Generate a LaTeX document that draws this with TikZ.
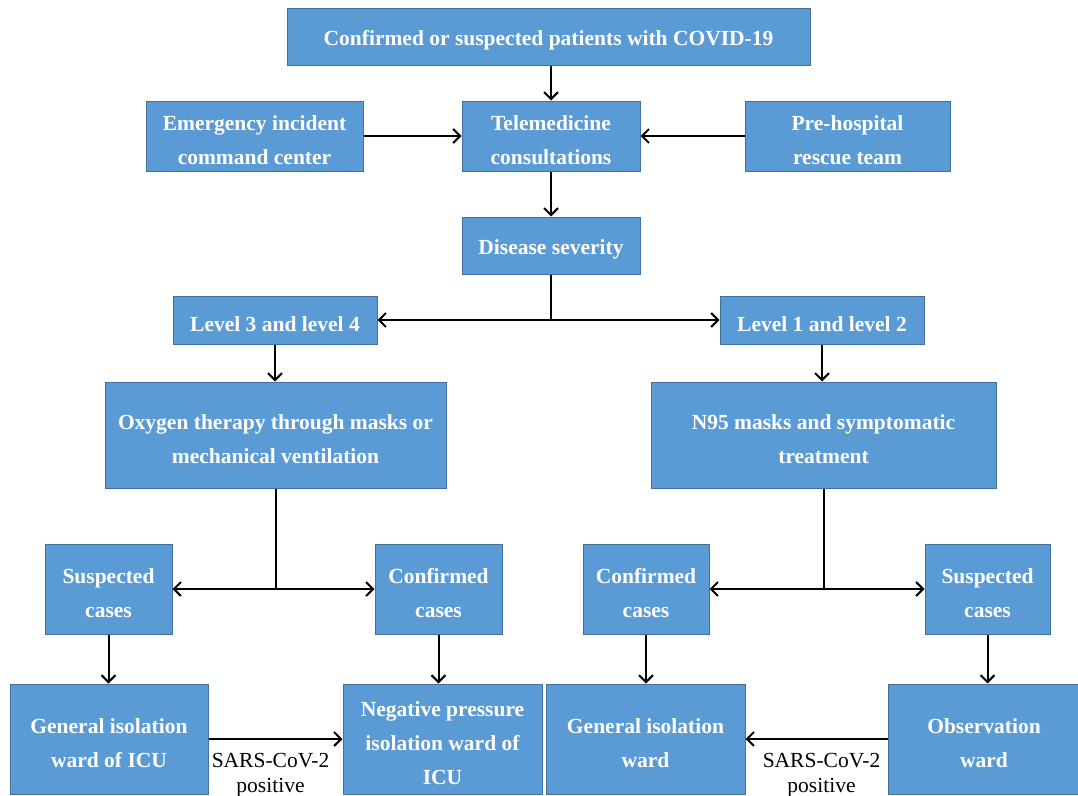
\documentclass[tikz,border=0pt]{standalone}
\usepackage{fontspec}
\setmainfont{Liberation Serif}
\usetikzlibrary{arrows.meta}
\definecolor{boxfill}{HTML}{5B9BD5}
\definecolor{boxline}{HTML}{41719C}
\tikzset{
  box/.style={draw=boxline, fill=boxfill, line width=1pt, inner sep=0pt},
  txt/.style={text=white, font=\bfseries\fontsize{21.5}{34}\selectfont, align=center, inner sep=0pt},
  conn/.style={draw=black, line width=2pt, -{Straight Barb[length=7pt,width=14pt,line width=2pt]}},
  line/.style={draw=black, line width=2pt},
  lbl/.style={font=\fontsize{21.5}{25}\selectfont, align=center, inner sep=0pt}
}
\newcommand\bx[5]{%
  \node[box, minimum width=#3, minimum height=#4] (#1) at (#2) {};
  \node[txt] (#1t) at ([yshift=-4pt]#1.center) {#5};}
\begin{document}
\begin{tikzpicture}[x=1pt,y=-1pt]
\useasboundingbox (0,0) rectangle (1078,795);
\bx{top}{548.5,36.5}{523}{57}{Confirmed or suspected patients with COVID-19}
\bx{emerg}{254.5,136}{217}{70}{Emergency incident\\command center}
\bx{tele}{551,136}{178}{70}{Telemedicine\\consultations}
\bx{pre}{847.5,136}{205}{70}{Pre-hospital\\rescue team}
\bx{sev}{551,245.5}{178}{57}{Disease severity}
\bx{l34}{275,320}{204}{48}{Level 3 and level 4}
\bx{l12}{822,320}{204}{48}{Level 1 and level 2}
\bx{oxy}{275.5,435}{341}{106}{Oxygen therapy through masks or\\mechanical ventilation}
\bx{n95}{823.5,435}{345}{106}{N95 masks and symptomatic\\treatment}
\bx{susL}{108.5,589}{127}{90}{Suspected\\cases}
\bx{conL}{438.5,589}{127}{90}{Confirmed\\cases}
\bx{conR}{646,589}{126}{90}{Confirmed\\cases}
\bx{susR}{987.5,589}{125}{90}{Suspected\\cases}
\bx{gicu}{109,739}{198}{110}{General isolation\\ward of ICU}
\bx{neg}{442.5,739}{199}{110}{Negative pressure\\isolation ward of\\ICU}
\bx{gen}{645.5,739}{199}{110}{General isolation\\ward}
\bx{obs}{984,739}{192}{110}{Observation\\ward}
% arrows
\draw[conn] (tele.north |- top.south) -- (tele);
\draw[conn] (emerg) -- (tele);
\draw[conn] (pre) -- (tele);
\draw[conn] (tele) -- (sev);
\coordinate (j1) at (sev.south |- l34.east);
\draw[line] (sev.south) -- (j1);
\draw[conn] (j1) -- (l34.east);
\draw[conn] (j1) -- (l12.west);
\draw[conn] (l34) -- (l34 |- oxy.north);
\draw[conn] (l12) -- (l12 |- n95.north);
\coordinate (j2) at (oxy.south |- susL.east);
\draw[line] (oxy.south) -- (j2);
\draw[conn] (j2) -- (susL.east);
\draw[conn] (j2) -- (conL.west);
\coordinate (j3) at (n95.south |- conR.east);
\draw[line] (n95.south) -- (j3);
\draw[conn] (j3) -- (conR.east);
\draw[conn] (j3) -- (susR.west);
\draw[conn] (susL) -- (susL |- gicu.north);
\draw[conn] (conL) -- (conL |- neg.north);
\draw[conn] (conR) -- (conR |- gen.north);
\draw[conn] (susR) -- (susR |- obs.north);
\draw[conn] (gicu.east) -- (neg.west) node[lbl, midway, below=13pt, xshift=-5pt] (lab1) {SARS-CoV-2\\positive};
\draw[conn] (obs.west) -- (gen.east) node[lbl, midway, below=13pt, xshift=5pt] (lab2) {SARS-CoV-2\\positive};
\end{tikzpicture}
\end{document}
